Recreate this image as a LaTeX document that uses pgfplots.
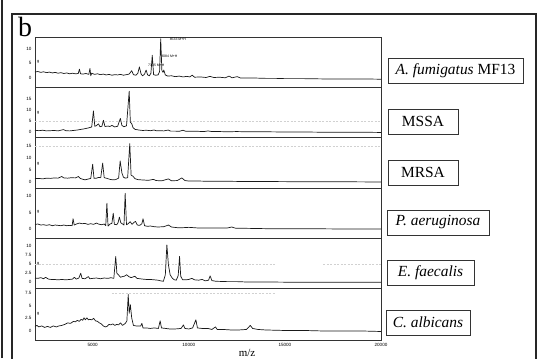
\documentclass[border=0pt]{standalone}
\usepackage{fontspec}
\setmainfont{Liberation Serif}
\newfontfamily\tickfont{Liberation Sans}
\usepackage{pgfplots}
\pgfplotsset{compat=1.18}
\tikzset{grid line/.style={black!18, dash pattern=on 2bp off 1.5bp, line width=0.45bp},
  lab/.style={draw=black!80, line width=0.7bp, minimum height=25bp, inner sep=0, font=\fontsize{15.5}{16}\selectfont}}
\pgfplotsset{panel/.style={scale only axis, width=346bp, xmin=2000, xmax=20000,
  anchor=south west, axis line style={black!80, line width=0.9bp},
  major tick length=0pt, xtick=\empty, scaled x ticks=false, scaled y ticks=false,
  tick label style={font=\tickfont\fontsize{4.6}{5}\selectfont},
  /pgf/number format/assume math mode=true,
  /pgf/number format/set thousands separator={},
  no marks,
  every axis plot post/.append style={black!90, line width=0.7bp, line join=round, mark=none},
  clip=false}}
\begin{document}
\begin{tikzpicture}[x=1bp,y=1bp]
\useasboundingbox (0,0) rectangle (543,358);
% outer frame
\draw[line width=2.4bp, black!85] (1.8,0) -- (1.8,358);
\draw[line width=1.8bp, black!85] (12,-2) -- (12,344) -- (536,344) -- (536,-2);
\node[anchor=base west, font=\fontsize{28}{30}\selectfont, inner sep=0] at (18,321.5) {b};

% Panel 1
\begin{axis}[panel, at={(35bp,271bp)}, height=50bp, ymin=-3.33, ymax=14.2, ytick={0,5,10}]
\addplot coordinates {(2000,1.9)(2150,2.1)(2300,1.8)(2450,2.0)(2600,1.7)(2750,1.9)(2900,1.6)(3050,1.8)(3200,1.5)(3350,1.7)(3500,1.4)(3650,1.6)(3800,1.3)(3950,1.5)(4100,1.3)(4250,1.4)(4310,2.9)(4370,1.3)(4500,1.2)(4650,1.4)(4800,1.1)(4860,3.2)(4900,0.6)(4950,1.5)(5100,1.1)(5250,1.3)(5400,1.0)(5550,1.2)(5700,0.9)(5850,1.1)(6000,0.8)(6150,1.0)(6300,0.9)(6450,1.1)(6600,0.8)(6750,1.0)(6900,1.2)(7030,2.4)(7120,1.0)(7250,0.8)(7350,1.5)(7430,3.7)(7520,1.2)(7600,0.6)(7700,1.2)(7780,2.6)(7860,0.9)(7950,0.6)(8030,1.5)(8100,7.8)(8170,1.0)(8280,0.8)(8400,0.9)(8480,2.0)(8540,13.6)(8600,2.5)(8660,1.8)(8700,2.6)(8780,0.9)(8900,0.5)(9100,0.6)(9300,0.3)(9500,0.5)(9700,0.2)(9900,0.4)(10050,0.2)(10180,0.8)(10300,0.1)(10600,0.2)(10900,0.0)(11100,0.4)(11300,0.0)(11600,0.1)(11900,-0.1)(12100,0.5)(12250,-0.1)(12520,0.3)(12700,-0.2)(13000,-0.2)(13500,-0.2)(14000,-0.3)(14500,-0.3)(15000,-0.4)(16000,-0.4)(17000,-0.5)(18000,-0.5)(19000,-0.5)(20000,-0.6)};
\node[anchor=west, font=\tickfont\fontsize{3.5}{4}\selectfont, inner sep=0] at (axis cs:9000,13.4) {8533 M+H};
\node[anchor=west, font=\tickfont\fontsize{3.5}{4}\selectfont, inner sep=0] at (axis cs:8560,7.5) {8084 M+H};
\node[anchor=west, font=\tickfont\fontsize{3.5}{4}\selectfont, inner sep=0] at (axis cs:7880,4.4) {7305 M+H};
\node[anchor=west, font=\tickfont\fontsize{4}{4}\selectfont, inner sep=0] at (axis cs:2100,5.4) {g};
\end{axis}

% Panel 2
\begin{axis}[panel, at={(35bp,221bp)}, height=50bp, ymin=-2.27, ymax=20.45, ytick={0,5,10,15}]
\draw[grid line] (axis cs:2000,5) -- (axis cs:20000,5);
\addplot coordinates {(2000,0.8)(2200,0.6)(2400,0.8)(2600,0.5)(2800,0.6)(3000,0.7)(3200,0.5)(3480,1.1)(3600,0.6)(3800,0.5)(4000,0.7)(4200,0.9)(4400,1.2)(4600,1.5)(4800,1.9)(4950,2.3)(5040,9.6)(5110,2.6)(5200,2.9)(5300,3.7)(5380,2.4)(5480,2.6)(5560,5.3)(5640,2.5)(5800,2.7)(5900,2.5)(6000,3.0)(6150,2.3)(6300,2.6)(6440,6.2)(6520,3.0)(6620,2.4)(6760,2.8)(6900,18.5)(6960,4.5)(7030,3.8)(7100,2.0)(7200,1.2)(7400,0.9)(7600,0.7)(7800,0.8)(8000,0.6)(8200,0.9)(8300,0.6)(8500,0.6)(8700,0.5)(8930,0.9)(9050,0.4)(9300,0.4)(9500,0.3)(9700,0.8)(9850,0.3)(10100,0.3)(10500,0.3)(10800,0.2)(11000,0.5)(11200,0.2)(11600,0.2)(12000,0.1)(12500,0.2)(13000,0.1)(14000,0.1)(15000,0.0)(16000,0.0)(17000,-0.1)(18000,-0.1)(19000,-0.1)(20000,-0.2)};
\node[anchor=west, font=\tickfont\fontsize{4}{4}\selectfont, inner sep=0] at (axis cs:2100,8.6) {g};
\end{axis}

% Panel 3
\begin{axis}[panel, at={(35bp,170bp)}, height=51bp, ymin=-2.5, ymax=18.75, ytick={0,5,10,15}]
\draw[grid line] (axis cs:2000,15) -- (axis cs:20000,15);
\addplot coordinates {(2000,1.4)(2200,1.5)(2400,1.3)(2600,1.6)(2800,1.5)(3000,1.7)(3200,1.6)(3390,2.3)(3500,1.7)(3700,1.6)(3900,1.8)(4100,1.7)(4260,2.3)(4350,1.5)(4500,1.1)(4600,0.9)(4750,1.2)(4900,1.5)(5000,7.4)(5070,1.5)(5200,1.6)(5300,1.9)(5420,1.8)(5520,7.9)(5600,1.8)(5750,1.5)(5900,1.1)(6050,0.9)(6200,1.0)(6350,1.6)(6430,8.8)(6520,3.8)(6600,2.0)(6700,1.6)(6820,1.8)(6930,16.0)(7000,2.8)(7100,2.4)(7200,1.4)(7350,1.0)(7500,0.9)(7700,0.8)(7900,0.7)(8160,1.1)(8300,0.6)(8600,0.5)(8940,1.3)(9100,0.5)(9400,0.6)(9640,1.7)(9800,0.6)(10000,0.4)(10500,0.4)(11000,0.3)(12000,0.3)(13000,0.2)(14000,0.2)(16000,0.1)(18000,0.1)(20000,0.0)};
\node[anchor=west, font=\tickfont\fontsize{4}{4}\selectfont, inner sep=0] at (axis cs:2100,7.5) {g};
\end{axis}

% Panel 4
\begin{axis}[panel, at={(35bp,120bp)}, height=50bp, ymin=-2.73, ymax=12.42, ytick={0,5,10}]
\addplot coordinates {(2000,1.4)(2150,1.5)(2300,1.2)(2450,1.3)(2600,1.1)(2750,1.3)(2900,1.0)(3050,1.2)(3200,1.1)(3350,1.0)(3500,1.2)(3650,1.0)(3800,1.1)(3930,1.0)(3980,3.1)(4040,1.2)(4150,1.5)(4300,1.8)(4450,1.6)(4600,1.7)(4750,1.4)(4900,1.6)(5050,1.4)(5200,1.8)(5300,1.5)(5450,1.3)(5600,1.5)(5680,1.0)(5740,7.8)(5800,0.9)(5900,1.5)(6000,1.7)(6070,4.8)(6130,1.4)(6250,1.3)(6320,1.9)(6390,3.6)(6460,1.9)(6560,1.5)(6630,1.2)(6690,10.8)(6760,1.3)(6850,1.6)(6950,2.2)(7050,1.4)(7150,2.0)(7230,2.3)(7320,1.2)(7450,1.1)(7560,1.6)(7620,3.1)(7700,1.0)(7850,0.8)(8000,0.9)(8200,0.7)(8400,0.6)(8700,0.7)(8940,1.2)(9100,0.6)(9400,0.4)(9700,0.4)(10000,0.5)(10500,0.3)(11000,0.3)(11500,0.3)(12000,0.3)(12240,0.6)(12450,0.2)(13000,0.2)(14000,0.1)(16000,0.1)(18000,0.0)(20000,0.0)};
\node[anchor=west, font=\tickfont\fontsize{4}{4}\selectfont, inner sep=0] at (axis cs:2100,5.2) {g};
\end{axis}

% Panel 5
\begin{axis}[panel, at={(35bp,70bp)}, height=50bp, ymin=-1.67, ymax=12.2, ytick={0,2.5,5,7.5,10}]
\draw[grid line] (axis cs:2000,5) -- (axis cs:14500,5);
\draw[grid line] (axis cs:17000,5) -- (axis cs:20000,5);
\addplot coordinates {(2000,1.1)(2150,1.0)(2300,1.2)(2450,0.9)(2550,1.3)(2700,0.8)(2850,0.7)(3000,0.7)(3200,0.6)(3400,0.7)(3600,0.6)(3800,0.7)(3950,0.8)(4050,1.3)(4150,0.8)(4280,1.1)(4380,2.4)(4450,1.0)(4600,0.9)(4780,1.5)(4850,0.9)(5000,1.0)(5200,1.1)(5400,0.9)(5600,1.1)(5800,1.0)(5950,1.2)(6100,1.0)(6200,7.1)(6260,2.4)(6340,2.0)(6450,1.3)(6550,1.5)(6650,1.6)(6770,2.0)(6880,1.5)(7000,1.2)(7100,1.4)(7200,1.6)(7300,1.0)(7450,0.9)(7600,0.8)(7800,0.7)(8000,0.7)(8200,0.6)(8400,0.5)(8550,0.3)(8680,0.2)(8780,2.0)(8860,10.3)(8940,4.8)(9030,2.0)(9150,1.0)(9250,0.6)(9350,0.5)(9450,1.8)(9520,7.1)(9580,1.6)(9680,0.6)(9850,0.6)(10000,0.7)(10160,1.0)(10300,0.6)(10500,0.5)(10700,0.7)(10850,0.3)(11030,0.5)(11110,1.7)(11200,0.4)(11400,0.2)(12000,0.1)(12500,0.1)(13000,0.0)(14000,0.0)(16000,-0.1)(18000,-0.1)(20000,-0.1)};
\node[anchor=west, font=\tickfont\fontsize{4}{4}\selectfont, inner sep=0] at (axis cs:2100,5) {g};
\end{axis}

% Panel 6
\begin{axis}[panel, at={(35bp,18bp)}, height=52bp, ymin=-1.78, ymax=8.48, ytick={0,2.5,5,7.5},
  xtick={5000,10000,15000,20000}]
\draw[grid line] (axis cs:6000,7.5) -- (axis cs:14500,7.5);
\addplot coordinates {(2000,0.9)(2100,1.1)(2200,0.8)(2350,1.0)(2500,0.7)(2650,0.9)(2800,0.7)(2950,1.0)(3100,0.8)(3250,1.0)(3400,1.1)(3550,1.3)(3700,1.6)(3850,1.5)(4000,1.9)(4100,1.8)(4200,2.1)(4300,1.9)(4400,2.3)(4480,2.1)(4550,2.6)(4620,2.2)(4700,2.6)(4780,2.2)(4850,2.3)(4950,2.2)(5050,2.5)(5150,2.0)(5250,1.9)(5350,1.6)(5450,1.4)(5550,1.0)(5650,0.8)(5750,0.9)(5850,1.3)(5950,1.2)(6050,1.4)(6150,1.1)(6250,1.3)(6350,1.2)(6450,1.6)(6550,1.1)(6700,1.5)(6780,2.0)(6850,7.2)(6900,3.5)(6960,5.2)(7030,2.6)(7120,1.1)(7250,1.0)(7400,1.0)(7500,1.0)(7560,1.5)(7620,0.6)(7800,0.6)(8000,0.5)(8200,0.6)(8420,0.5)(8510,2.0)(8580,0.6)(8800,0.5)(9000,0.4)(9300,0.4)(9600,0.5)(9720,1.2)(9800,0.5)(10000,0.4)(10200,0.6)(10370,2.2)(10450,0.6)(10700,0.5)(11000,0.5)(11200,0.3)(11390,0.8)(11480,0.3)(11800,0.3)(12200,0.2)(12600,0.2)(13000,0.3)(13200,1.1)(13320,0.5)(13600,0.3)(14000,0.2)(15000,0.1)(16000,0.1)(17000,0.0)(18000,0.0)(19000,0.0)(20000,-0.1)};
\node[anchor=west, font=\tickfont\fontsize{4}{4}\selectfont, inner sep=0] at (axis cs:2100,3.3) {g};
\end{axis}

\node[anchor=base, font=\fontsize{11}{12}\selectfont, inner sep=0] at (247,1.5) {m/z};

% label boxes
\node[lab, minimum width=135bp] at (455.5,287.5) {\textit{A. fumigatus} MF13};
\node[lab, minimum width=70bp] at (423,236.5) {MSSA};
\node[lab, minimum width=70bp] at (423,185.5) {MRSA};
\node[lab, minimum width=102bp] at (438,135.5) {\textit{P. aeruginosa}};
\node[lab, minimum width=87bp] at (430.5,85.5) {\textit{E. faecalis}};
\node[lab, minimum width=84bp] at (428,35.5) {\textit{C. albicans}};
\end{tikzpicture}
\end{document}
